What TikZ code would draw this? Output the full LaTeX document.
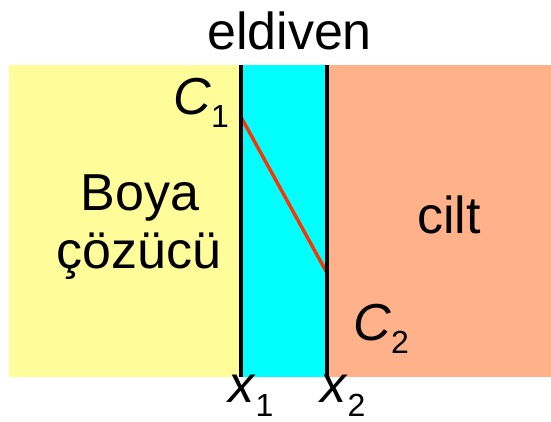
\documentclass[tikz,border=0pt]{standalone}
\usepackage{fontspec}
\setmainfont{Liberation Sans}
\definecolor{solvent}{HTML}{FFFD9A}
\definecolor{glove}{HTML}{00FFFF}
\definecolor{skin}{HTML}{FFB28A}
\definecolor{profile}{HTML}{FF3300}
\newcommand{\bigtext}{\fontsize{52}{58}\selectfont}
\newcommand{\subtext}{\fontsize{32}{36}\selectfont}
\begin{document}
\begin{tikzpicture}[x=1pt,y=-1pt,
  label/.style={inner sep=0pt,font=\bigtext},
  wall/.style={line width=4pt,black},
  conc/.style={line width=3.4pt,profile}]
\useasboundingbox (0,0) rectangle (551,422);
% three layers
\fill[solvent] (9,65) rectangle (241,377);
\fill[glove] (241,65) rectangle (327,377);
\fill[skin] (327,65) rectangle (551,377);
% concentration profile across the glove
\coordinate (c1) at (241,117);
\coordinate (c2) at (327,273);
\draw[conc] (c1) -- (c2);
% glove surfaces
\coordinate (w1t) at (241,65);
\coordinate (w1b) at (241,377);
\coordinate (w2t) at (327,65);
\coordinate (w2b) at (327,377);
\draw[wall] (w1t) -- (w1b);
\draw[wall] (w2t) -- (w2b);
% labels
\node[label,anchor=base] (title) at (289.5,50) {eldiven};
\node[label,anchor=base] (boya) at (140,210) {Boya};
\node[label,anchor=base] (cozucu) at (139,268) {çözücü};
\node[label,anchor=base] (cilt) at (449,233) {cilt};
\node[label,anchor=base west] (C1) at (173,115) {\textit{C}\raisebox{-0.25em}{\subtext 1}};
\node[label,anchor=base west] (C2) at (353,340) {\textit{C}\raisebox{-0.25em}{\subtext 2}};
\node[label,anchor=base west] (x1) at (228,402) {\textit{x}\raisebox{-0.28em}{\subtext 1}};
\node[label,anchor=base west] (x2) at (320,402) {\textit{x}\raisebox{-0.28em}{\subtext 2}};
\end{tikzpicture}
\end{document}
